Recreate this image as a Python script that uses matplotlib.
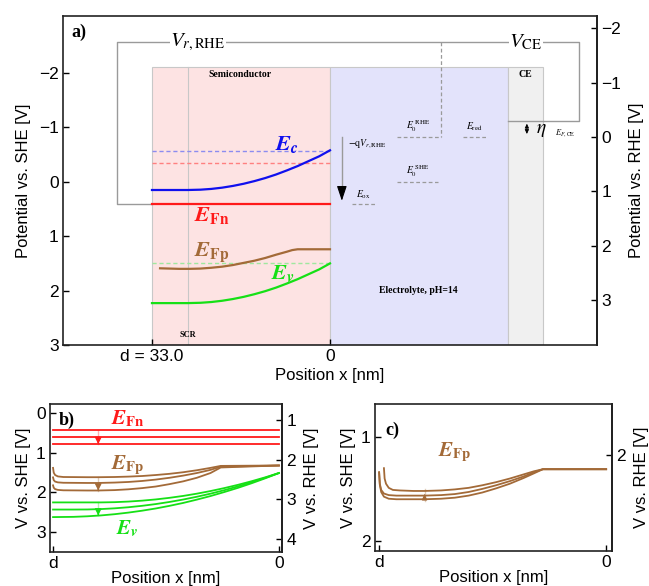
import matplotlib.pyplot as plt
from matplotlib.patches import Rectangle

plt.rcParams['font.family'] = ['Liberation Sans', 'DejaVu Sans']
plt.rcParams['mathtext.fontset'] = 'stix'

SERIF = 'Liberation Serif'
RED = '#ff1a1a'
BLUE = '#1010ee'
GREEN = '#16e016'
BROWN = '#a36a38'
GRAY = '#9a9a9a'

# shift between the two scales (pH 14)
rhe_shift = 0.826

# ---- panel a data (position in nm, potential vs SHE in V)
d_nm = 33.0
scr_w = 26.4
ce_left, ce_right = -33.0, -39.5
a_x = [33, 26.4, 24, 22, 20, 18, 16, 14, 12, 10, 8, 6, 4, 2, 0]
a_ec = [0.15, 0.15, 0.144, 0.13, 0.107, 0.075, 0.035, -0.014, -0.07, -0.135,
        -0.21, -0.29, -0.38, -0.47, -0.58]
a_ev = [2.23, 2.23, 2.224, 2.21, 2.187, 2.155, 2.115, 2.066, 2.01, 1.945,
        1.87, 1.79, 1.70, 1.61, 1.50]
a_efn = 0.40
a_fp_x = [31.5, 28, 26, 24, 22, 20, 18, 16, 14, 12, 10, 8, 7, 6, 0]
a_fp = [1.59, 1.60, 1.60, 1.595, 1.58, 1.56, 1.53, 1.49, 1.45, 1.40, 1.34,
        1.285, 1.255, 1.24, 1.24]
ec_surf, ef_dash, ev_surf = -0.57, -0.34, 1.50
e0_rhe, e0_she, e_ox, ef_ce = -0.83, 0.0, 0.40, -1.12
frame_top = -2.57
rect_top = -2.12

# ---- panel b data
b_fn = [0.42, 0.60, 0.78]
b_fp_x = [33.0, 32.9, 32.7, 32.3, 31.5, 28, 26.4, 24, 22, 20, 18, 16, 14, 12,
          10, 8.5, 0]
b_fp = [
    [1.38, 1.50, 1.56, 1.595, 1.61, 1.615, 1.615, 1.61, 1.60, 1.585, 1.56,
     1.53, 1.49, 1.44, 1.38, 1.33, 1.32],
    [1.62, 1.69, 1.725, 1.745, 1.755, 1.76, 1.76, 1.75, 1.735, 1.71, 1.675,
     1.63, 1.575, 1.51, 1.43, 1.35, 1.32],
    [1.82, 1.88, 1.915, 1.935, 1.945, 1.95, 1.95, 1.94, 1.92, 1.89, 1.85,
     1.79, 1.72, 1.63, 1.51, 1.37, 1.32],
]
b_ev_x = [33, 30, 28, 26, 24, 22, 20, 18, 16, 14, 12, 10, 8, 6, 4, 2, 0]
b_ev = [
    [2.25, 2.25, 2.25, 2.25, 2.244, 2.229, 2.206, 2.175, 2.135, 2.087, 2.03,
     1.964, 1.89, 1.808, 1.717, 1.618, 1.51],
    [2.43, 2.43, 2.428, 2.418, 2.399, 2.372, 2.336, 2.292, 2.239, 2.178,
     2.108, 2.03, 1.943, 1.847, 1.743, 1.631, 1.51],
    [2.62, 2.614, 2.60, 2.578, 2.547, 2.507, 2.459, 2.403, 2.337, 2.264,
     2.18, 2.09, 1.99, 1.884, 1.768, 1.643, 1.51],
]

# ---- panel c data
c_x = [
    [32.3, 32.2, 32.0, 31.6, 31.0, 30, 28, 26.4, 24, 22, 20, 18, 16, 14, 12,
     10.5, 9.2, 0],
    [33, 32.9, 32.7, 32.3, 31.6, 30.5, 28, 26.4, 24, 22, 20, 18, 16, 14, 12,
     10.5, 9.2, 0],
    [33, 32.9, 32.7, 32.3, 31.6, 30.5, 28, 26.4, 24, 22, 20, 18, 16, 14, 12,
     10.5, 9.2, 0],
]
c_fp = [
    [1.30, 1.40, 1.45, 1.49, 1.51, 1.515, 1.52, 1.52, 1.515, 1.505, 1.49,
     1.465, 1.435, 1.40, 1.36, 1.33, 1.31, 1.31],
    [1.34, 1.45, 1.51, 1.545, 1.56, 1.565, 1.565, 1.565, 1.56, 1.55, 1.53,
     1.50, 1.465, 1.425, 1.38, 1.34, 1.31, 1.31],
    [1.34, 1.46, 1.53, 1.575, 1.595, 1.60, 1.60, 1.60, 1.595, 1.585, 1.565,
     1.535, 1.495, 1.45, 1.395, 1.35, 1.31, 1.31],
]


def style_axes(ax, lw=1.2):
    for s in ax.spines.values():
        s.set_linewidth(lw)
        s.set_color('#222222')
    ax.tick_params(direction='in', length=4, width=1, labelsize=12.5, pad=3)


def add_rhe(ax, ticks, label, labelpad):
    sec = ax.secondary_yaxis('right', functions=(lambda v: v + rhe_shift,
                                                 lambda v: v - rhe_shift))
    sec.set_yticks(ticks)
    sec.tick_params(direction='in', length=4, width=1, labelsize=12.5, pad=3)
    sec.spines['right'].set_linewidth(1.2)
    sec.set_ylabel(label, fontsize=12, labelpad=labelpad)
    return sec


def eq_label(ax, x, y, main, sub, color, size=16, subit=False):
    subcmd = r'\mathbfit' if subit else r'\mathbf'
    ax.text(x, y, r'$\mathbfit{%s}_{%s{%s}}$' % (main, subcmd, sub),
            color=color, fontsize=size, ha='center', va='center')


fig = plt.figure(figsize=(6.49, 5.86), dpi=100)

# ================= panel a
ax = fig.add_axes([0.0970, 0.4113, 0.8229, 0.5614])
style_axes(ax)
ax.set_xlim(49.5, -49.5)
ax.set_ylim(3.0, -3.05)

ax.add_patch(Rectangle((0, rect_top), d_nm, 3.0 - rect_top, facecolor='#fde3e3',
                       edgecolor='#c8c8c8', lw=0.8, zorder=0))
ax.add_patch(Rectangle((ce_left, rect_top), -ce_left, 3.0 - rect_top,
                       facecolor='#e3e3fb', edgecolor='#c8c8c8', lw=0.8, zorder=0))
ax.add_patch(Rectangle((ce_right, rect_top), ce_left - ce_right, 3.0 - rect_top,
                       facecolor='#f0f0f0', edgecolor='#c8c8c8', lw=0.8, zorder=0))
ax.plot([scr_w, scr_w], [rect_top, 3.0], color='#c8c8c8', lw=0.8, zorder=1)

# outer circuit
ax.plot([d_nm, 39.5, 39.5, -46.2, -46.2, ce_left],
        [a_efn, a_efn, frame_top, frame_top, ef_ce, ef_ce],
        color=GRAY, lw=1.0, zorder=1)
ax.plot([-20.6, -20.6], [frame_top, e0_rhe], color=GRAY, lw=0.9, ls=(0, (3, 2)))
ax.text(24.5, frame_top, r'$V_{r,\mathrm{RHE}}$', fontsize=15, ha='center',
        va='center', bbox=dict(facecolor='white', edgecolor='none', pad=0.5))
ax.text(-36.3, frame_top, r'$V_{\mathrm{CE}}$', fontsize=15, ha='center',
        va='center', bbox=dict(facecolor='white', edgecolor='none', pad=0.5))

# dashed reference levels
ax.plot([d_nm, 0], [ec_surf, ec_surf], color='#8c8cf0', lw=1.0, ls=(0, (3, 2)))
ax.plot([d_nm, 0], [ef_dash, ef_dash], color='#ff8080', lw=1.0, ls=(0, (3, 2)))
ax.plot([d_nm, 0], [ev_surf, ev_surf], color='#9fe89f', lw=1.0, ls=(0, (3, 2)))
for x0, x1, y in [(-12.4, -20.6, e0_rhe), (-24.7, -28.9, e0_rhe),
                  (-12.4, -20.0, e0_she), (-4.1, -8.3, e_ox)]:
    ax.plot([x0, x1], [y, y], color=GRAY, lw=0.9, ls=(0, (3, 2)))

# bands
ax.plot(a_x, a_ec, color=BLUE, lw=1.6)
ax.plot(a_x, a_ev, color=GREEN, lw=1.6)
ax.plot([d_nm, 0], [a_efn, a_efn], color=RED, lw=1.6)
ax.plot(a_fp_x, a_fp, color=BROWN, lw=1.6)

eq_label(ax, 8.0, -0.69, 'E', 'c', BLUE, subit=True)
eq_label(ax, 21.9, 0.62, 'E', 'Fn', RED)
eq_label(ax, 21.9, 1.30, 'E', 'Fp', BROWN)
eq_label(ax, 8.7, 1.68, 'E', 'v', GREEN, subit=True)

# arrows
ax.plot([-2.2, -2.2], [e0_rhe, 0.2], color=GRAY, lw=1.0)
ax.annotate('', xy=(-2.2, e_ox), xytext=(-2.2, 0.05),
            arrowprops=dict(arrowstyle='-|>,head_width=0.3,head_length=0.9',
                            color='black', lw=0.8))
ax.annotate('', xy=(-36.5, ef_ce), xytext=(-36.5, e0_rhe),
            arrowprops=dict(arrowstyle='<|-|>,head_width=0.12,head_length=0.25',
                            color='black', lw=0.6))

# annotations
ax.text(46.6, -2.75, 'a)', family=SERIF, weight='bold',
        fontsize=13, ha='center', va='center')
ax.text(16.7, -1.98, 'Semiconductor', family=SERIF, weight='bold', fontsize=7,
        ha='center', va='center')
ax.text(-36.3, -1.98, 'CE', family=SERIF, weight='bold', fontsize=7,
        ha='center', va='center')
ax.text(-16.3, 2.0, 'Electrolyte, pH=14', family=SERIF, weight='bold',
        fontsize=7, ha='center', va='center')
ax.text(scr_w, 2.81, 'SCR', family=SERIF, weight='bold', fontsize=6,
        ha='center', va='center')
ax.text(-6.9, -0.71, r'$-\mathrm{q}V_{r,\mathrm{RHE}}$', fontsize=7,
        ha='center', va='center')
ax.text(-6.2, 0.23, r'$E_{\mathrm{ox}}$', fontsize=7, ha='center', va='center')
ax.text(-16.3, -1.02, r'$E_0^{\ \mathrm{RHE}}$', fontsize=7, ha='center',
        va='center')
ax.text(-16.3, -0.19, r'$E_0^{\ \mathrm{SHE}}$', fontsize=7, ha='center',
        va='center')
ax.text(-26.7, -1.02, r'$E_{\mathrm{red}}$', fontsize=7, ha='center',
        va='center')
ax.text(-39.2, -0.94, r'$\eta$', fontsize=14, ha='center', va='center')
ax.text(-43.6, -0.90, r'$E_{F,\mathrm{CE}}$', fontsize=6, ha='center',
        va='center')

ax.set_xticks([d_nm, 0])
ax.set_xticklabels(['d = 33.0', '0'])
ax.set_yticks([-2, -1, 0, 1, 2, 3])
ax.set_yticklabels(['\u22122', '\u22121', '0', '1', '2', '3'])
ax.set_xlabel('Position x [nm]', fontsize=12, labelpad=3)
ax.set_ylabel('Potential vs. SHE [V]', fontsize=12, labelpad=6)
sec = add_rhe(ax, [-2, -1, 0, 1, 2, 3], 'Potential vs. RHE [V]', 6)
sec.set_yticklabels(['\u22122', '\u22121', '0', '1', '2', '3'])

# ================= panel b
bx = fig.add_axes([0.077, 0.058, 0.3575, 0.2526])
style_axes(bx)
bx.set_xlim(33.45, -0.45)
bx.set_ylim(3.5, -0.23)
for v in b_fn:
    bx.plot([d_nm, 0], [v, v], color=RED, lw=1.3)
for v in b_fp:
    bx.plot(b_fp_x, v, color=BROWN, lw=1.3)
for v in b_ev:
    bx.plot(b_ev_x, v, color=GREEN, lw=1.3)
for lo, hi, col in [(b_fn[0], b_fn[-1], RED), (b_fp[0][6], b_fp[-1][6], BROWN),
                    (b_ev[0][3], b_ev[-1][3], GREEN)]:
    bx.plot([scr_w, scr_w], [lo, hi], color=col, lw=1.0, alpha=0.35)
    bx.annotate('', xy=(scr_w, hi), xytext=(scr_w, hi - 0.12),
                arrowprops=dict(arrowstyle='-|>,head_width=0.2,head_length=0.4',
                                color=col, lw=0.8))
bx.text(31.0, 0.18, 'b)', family=SERIF, weight='bold', fontsize=13,
        ha='center', va='center')
eq_label(bx, 22.1, 0.15, 'E', 'Fn', RED, size=15)
eq_label(bx, 22.1, 1.32, 'E', 'Fp', BROWN, size=15)
eq_label(bx, 22.1, 2.90, 'E', 'v', GREEN, size=15, subit=True)
bx.set_xticks([d_nm, 0])
bx.set_xticklabels(['d', '0'])
bx.set_yticks([0, 1, 2, 3])
bx.set_xlabel('Position x [nm]', fontsize=12, labelpad=0)
bx.set_ylabel('V vs. SHE [V]', fontsize=12, labelpad=4)
add_rhe(bx, [1, 2, 3, 4], 'V vs. RHE [V]', 6)

# ================= panel c
cx = fig.add_axes([0.5778, 0.0597, 0.3652, 0.2509])
style_axes(cx)
cx.set_xlim(33.6, -0.85)
cx.set_ylim(2.1, 0.68)
for xs, v in zip(c_x, c_fp):
    cx.plot(xs, v, color=BROWN, lw=1.3)
cx.plot([scr_w, scr_w], [1.62, 1.50], color=BROWN, lw=1.0, alpha=0.35)
cx.annotate('', xy=(scr_w, c_fp[0][7]), xytext=(scr_w, c_fp[2][7]),
            arrowprops=dict(arrowstyle='-|>,head_width=0.15,head_length=0.35',
                            color=BROWN, lw=0.8))
cx.text(31.1, 0.93, 'c)', family=SERIF, weight='bold', fontsize=13,
        ha='center', va='center')
eq_label(cx, 22.0, 1.14, 'E', 'Fp', BROWN, size=15)
cx.set_xticks([d_nm, 0])
cx.set_xticklabels(['d', '0'])
cx.set_yticks([1, 2])
cx.set_xlabel('Position x [nm]', fontsize=12, labelpad=0)
cx.set_ylabel('V vs. SHE [V]', fontsize=12, labelpad=4)
add_rhe(cx, [2], 'V vs. RHE [V]', 6)

fig.savefig('out.png', dpi=100)
